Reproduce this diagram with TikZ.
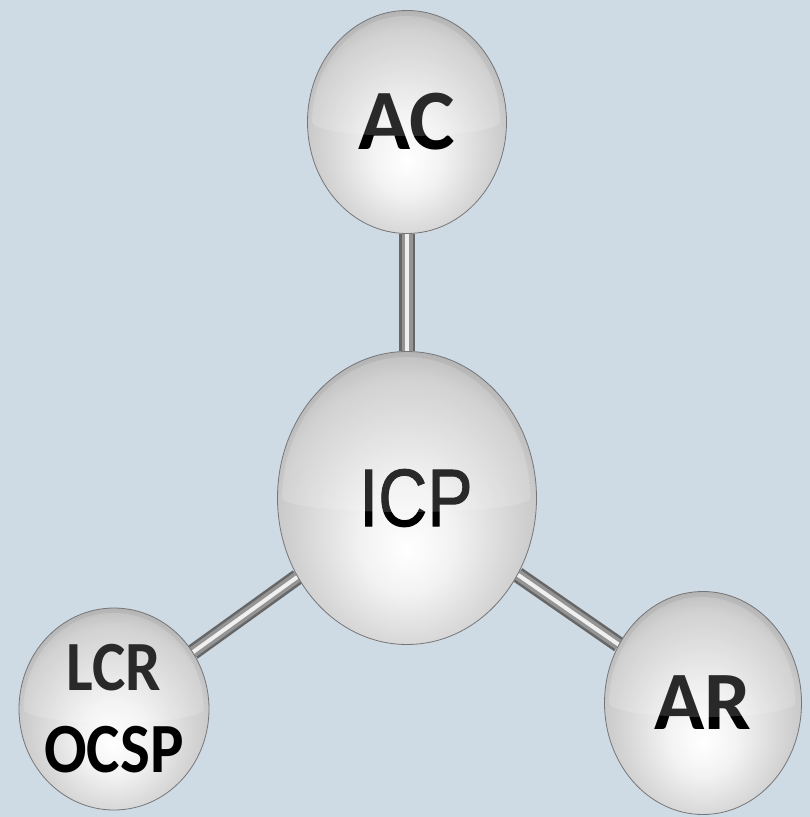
\documentclass[tikz,border=0pt]{standalone}
\usepackage{fontspec}
\usepackage{graphicx}
\usepackage{tikz}
\usetikzlibrary{shapes.geometric,backgrounds}
\newfontfamily\calib{Carlito}
\newfontfamily\arialf[FakeBold=1.2]{Liberation Sans}
\definecolor{bgblue}{RGB}{206,218,228}
\definecolor{rim}{RGB}{118,118,120}
% glass ball shading, bright spot low in the ball
\pgfdeclareradialshading{orb}{\pgfpoint{0bp}{-9bp}}{%
  color(0bp)=(white); color(9bp)=(white!90!gray);
  color(18bp)=(white!72!gray); color(25bp)=(white!58!gray);
  color(29bp)=(white!40!gray); color(32bp)=(rim); color(50bp)=(rim)}
\tikzset{
  orb/.style={ellipse, shading=orb, draw=rim, line width=0.8pt,
    inner sep=0pt, align=center},
  boldtxt/.style={font=\calib\bfseries\fontsize{#1}{#1}\selectfont},
  rod/.style={line width=16pt, draw=black!60},
  rodmid/.style={line width=11pt, draw=black!42},
  rodshine/.style={line width=4pt, draw=white!88!gray},
}

\begin{document}
\begin{tikzpicture}[x=1pt,y=-1pt]
    \useasboundingbox (0,0) rectangle (810,817);
    % the four balls
    \node[orb, minimum width=199pt, minimum height=223pt, boldtxt=86] (ac)  at (407,122) {AC};
    \node[orb, minimum width=259pt, minimum height=293pt, font=\arialf\fontsize{68}{80}\selectfont] (icp) at (407,498) {\hspace*{18pt}\scalebox{1}[1.2]{ICP}};
    \node[orb, minimum width=190pt, minimum height=202pt, inner sep=-40pt, font=\calib\bfseries\fontsize{63}{82}\selectfont] (lcr) at (114,709) {\scalebox{1}[1.12]{LCR}\\\scalebox{1}[1.12]{OCSP}};
    \node[orb, minimum width=197pt, minimum height=223pt, boldtxt=83] (ar)  at (703,703) {AR};
    % gloss on the upper half
    \foreach \b/\rx/\ry in {ac/99/111,icp/129/146,lcr/95/101,ar/98/111}
      \fill[white, opacity=0.16] ([xshift=5pt]\b.west)
        arc[start angle=180, end angle=360, x radius=\rx-5, y radius=\ry-5]
        arc[start angle=0, end angle=180, x radius=\rx-5, y radius=14];
    % rods behind the balls
    \begin{scope}[on background layer]
      \fill[bgblue] (0,0) rectangle (810,817);
      \foreach \b in {ac,lcr,ar} {
        \draw[rod] (icp) -- (\b);
        \draw[rodmid] (icp) -- (\b);
        \draw[rodshine] (icp) -- (\b);
      }
    \end{scope}
  \end{tikzpicture}
\end{document}
